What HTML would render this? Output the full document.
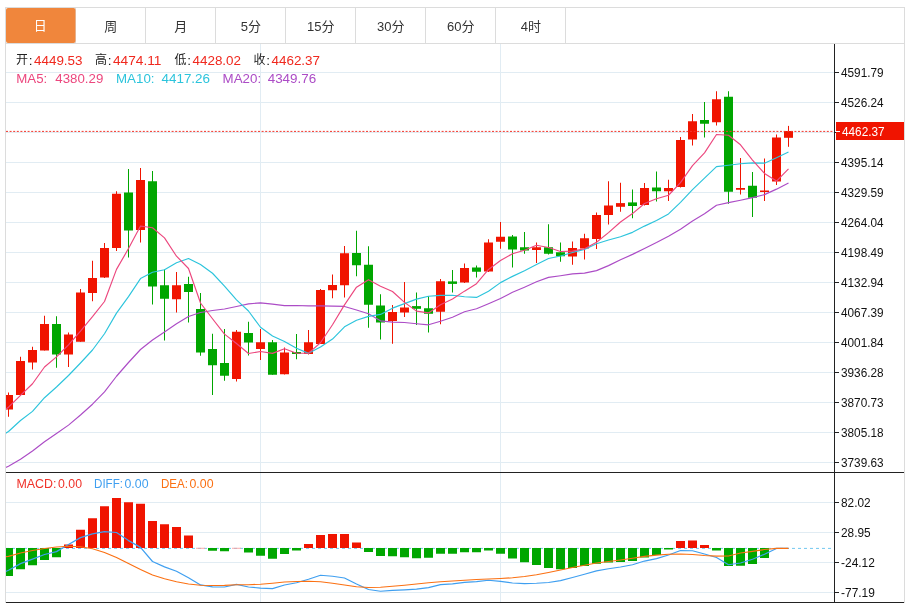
<!DOCTYPE html>
<html lang="zh-CN"><head><meta charset="utf-8"><title>K线图</title>
<style>
html,body{margin:0;padding:0;background:#fff;}
body{width:912px;height:603px;overflow:hidden;}
svg{display:block;}
text{font-family:"Liberation Sans","Noto Sans CJK SC",sans-serif;}
.ax{font-size:12.3px;fill:#111;}
.tab{font-size:13px;fill:#333;text-anchor:middle;}
.hd{font-size:13.6px;}
</style></head><body>
<svg width="912" height="603" viewBox="0 0 912 603">
<rect x="0" y="0" width="912" height="603" fill="#fff"/>
<defs><clipPath id="cm"><rect x="6" y="44" width="828" height="428"/></clipPath><clipPath id="cd"><rect x="6" y="473" width="828" height="129"/></clipPath></defs>
<g shape-rendering="crispEdges">
<rect x="5.5" y="7.5" width="899" height="595" fill="none" stroke="#dcdcdc"/>
<rect x="6" y="43" width="898" height="1" fill="#dcdcdc"/>
<rect x="75" y="8" width="1" height="35" fill="#dcdcdc"/>
<rect x="145" y="8" width="1" height="35" fill="#dcdcdc"/>
<rect x="215" y="8" width="1" height="35" fill="#dcdcdc"/>
<rect x="285" y="8" width="1" height="35" fill="#dcdcdc"/>
<rect x="355" y="8" width="1" height="35" fill="#dcdcdc"/>
<rect x="425" y="8" width="1" height="35" fill="#dcdcdc"/>
<rect x="495" y="8" width="1" height="35" fill="#dcdcdc"/>
<rect x="565" y="8" width="1" height="35" fill="#dcdcdc"/>
</g>
<rect x="6" y="8" width="69.5" height="35" rx="2" ry="2" fill="#f0863c"/>
<text class="tab" x="40.2" y="30.4" style="fill:#fff">日</text>
<text class="tab" x="110.8" y="30.8">周</text>
<text class="tab" x="180.8" y="30.8">月</text>
<text class="tab" x="250.8" y="30.8">5分</text>
<text class="tab" x="320.8" y="30.8">15分</text>
<text class="tab" x="390.8" y="30.8">30分</text>
<text class="tab" x="460.8" y="30.8">60分</text>
<text class="tab" x="530.8" y="30.8">4时</text>
<g shape-rendering="crispEdges">
<rect x="6" y="72" width="828" height="1" fill="#e1ecf3"/>
<rect x="6" y="102" width="828" height="1" fill="#e1ecf3"/>
<rect x="6" y="132" width="828" height="1" fill="#e1ecf3"/>
<rect x="6" y="162" width="828" height="1" fill="#e1ecf3"/>
<rect x="6" y="192" width="828" height="1" fill="#e1ecf3"/>
<rect x="6" y="222" width="828" height="1" fill="#e1ecf3"/>
<rect x="6" y="252" width="828" height="1" fill="#e1ecf3"/>
<rect x="6" y="282" width="828" height="1" fill="#e1ecf3"/>
<rect x="6" y="312" width="828" height="1" fill="#e1ecf3"/>
<rect x="6" y="342" width="828" height="1" fill="#e1ecf3"/>
<rect x="6" y="372" width="828" height="1" fill="#e1ecf3"/>
<rect x="6" y="402" width="828" height="1" fill="#e1ecf3"/>
<rect x="6" y="432" width="828" height="1" fill="#e1ecf3"/>
<rect x="6" y="462" width="828" height="1" fill="#e1ecf3"/>
<rect x="6" y="502" width="828" height="1" fill="#e1ecf3"/>
<rect x="6" y="532" width="828" height="1" fill="#e1ecf3"/>
<rect x="6" y="562" width="828" height="1" fill="#e1ecf3"/>
<rect x="6" y="592" width="828" height="1" fill="#e1ecf3"/>
<rect x="260" y="44" width="1" height="558" fill="#e1ecf3"/>
<rect x="500" y="44" width="1" height="558" fill="#e1ecf3"/>
</g>
<g clip-path="url(#cm)">
<rect x="8" y="392.50" width="1" height="24.25" fill="#f01400"/>
<rect x="4" y="395.00" width="9" height="14.50" fill="#f01400"/>
<rect x="20" y="356.75" width="1" height="38.25" fill="#f01400"/>
<rect x="16" y="361.00" width="9" height="34.00" fill="#f01400"/>
<rect x="32" y="346.75" width="1" height="22.75" fill="#f01400"/>
<rect x="28" y="350.00" width="9" height="12.50" fill="#f01400"/>
<rect x="44" y="315.75" width="1" height="34.75" fill="#f01400"/>
<rect x="40" y="324.00" width="9" height="26.50" fill="#f01400"/>
<rect x="56" y="316.25" width="1" height="51.50" fill="#00a600"/>
<rect x="52" y="324.00" width="9" height="30.50" fill="#00a600"/>
<rect x="68" y="332.50" width="1" height="34.50" fill="#f01400"/>
<rect x="64" y="334.50" width="9" height="20.00" fill="#f01400"/>
<rect x="80" y="289.00" width="1" height="52.75" fill="#f01400"/>
<rect x="76" y="292.50" width="9" height="49.25" fill="#f01400"/>
<rect x="92" y="260.75" width="1" height="40.50" fill="#f01400"/>
<rect x="88" y="278.00" width="9" height="15.00" fill="#f01400"/>
<rect x="104" y="243.00" width="1" height="35.00" fill="#f01400"/>
<rect x="100" y="248.00" width="9" height="29.50" fill="#f01400"/>
<rect x="116" y="191.25" width="1" height="59.75" fill="#f01400"/>
<rect x="112" y="193.75" width="9" height="54.25" fill="#f01400"/>
<rect x="128" y="169.00" width="1" height="88.50" fill="#00a600"/>
<rect x="124" y="192.50" width="9" height="38.00" fill="#00a600"/>
<rect x="140" y="168.00" width="1" height="74.50" fill="#f01400"/>
<rect x="136" y="180.00" width="9" height="50.00" fill="#f01400"/>
<rect x="152" y="171.00" width="1" height="133.50" fill="#00a600"/>
<rect x="148" y="181.25" width="9" height="105.25" fill="#00a600"/>
<rect x="164" y="269.50" width="1" height="71.00" fill="#00a600"/>
<rect x="160" y="285.25" width="9" height="13.50" fill="#00a600"/>
<rect x="176" y="272.00" width="1" height="40.50" fill="#f01400"/>
<rect x="172" y="285.25" width="9" height="14.00" fill="#f01400"/>
<rect x="188" y="276.75" width="1" height="45.75" fill="#00a600"/>
<rect x="184" y="284.00" width="9" height="8.00" fill="#00a600"/>
<rect x="200" y="293.00" width="1" height="62.75" fill="#00a600"/>
<rect x="196" y="309.00" width="9" height="43.50" fill="#00a600"/>
<rect x="212" y="333.75" width="1" height="61.25" fill="#00a600"/>
<rect x="208" y="349.00" width="9" height="16.25" fill="#00a600"/>
<rect x="224" y="329.00" width="1" height="51.75" fill="#00a600"/>
<rect x="220" y="363.00" width="9" height="12.75" fill="#00a600"/>
<rect x="236" y="330.00" width="1" height="51.50" fill="#f01400"/>
<rect x="232" y="331.75" width="9" height="47.25" fill="#f01400"/>
<rect x="248" y="321.75" width="1" height="33.75" fill="#00a600"/>
<rect x="244" y="333.00" width="9" height="9.50" fill="#00a600"/>
<rect x="260" y="329.00" width="1" height="31.00" fill="#f01400"/>
<rect x="256" y="342.25" width="9" height="6.75" fill="#f01400"/>
<rect x="272" y="340.00" width="1" height="34.75" fill="#00a600"/>
<rect x="268" y="342.25" width="9" height="32.50" fill="#00a600"/>
<rect x="284" y="347.50" width="1" height="27.00" fill="#f01400"/>
<rect x="280" y="352.50" width="9" height="21.75" fill="#f01400"/>
<rect x="296" y="334.00" width="1" height="25.25" fill="#00a600"/>
<rect x="292" y="352.00" width="9" height="2.00" fill="#00a600"/>
<rect x="308" y="330.00" width="1" height="24.50" fill="#f01400"/>
<rect x="304" y="342.25" width="9" height="11.75" fill="#f01400"/>
<rect x="320" y="289.00" width="1" height="55.00" fill="#f01400"/>
<rect x="316" y="290.00" width="9" height="54.00" fill="#f01400"/>
<rect x="332" y="274.50" width="1" height="23.75" fill="#f01400"/>
<rect x="328" y="285.00" width="9" height="5.25" fill="#f01400"/>
<rect x="344" y="246.00" width="1" height="51.50" fill="#f01400"/>
<rect x="340" y="253.25" width="9" height="32.00" fill="#f01400"/>
<rect x="356" y="230.75" width="1" height="45.50" fill="#00a600"/>
<rect x="352" y="253.00" width="9" height="12.25" fill="#00a600"/>
<rect x="368" y="246.25" width="1" height="81.50" fill="#00a600"/>
<rect x="364" y="264.75" width="9" height="40.00" fill="#00a600"/>
<rect x="380" y="294.25" width="1" height="45.25" fill="#00a600"/>
<rect x="376" y="305.50" width="9" height="17.00" fill="#00a600"/>
<rect x="392" y="305.00" width="1" height="38.75" fill="#f01400"/>
<rect x="388" y="312.00" width="9" height="9.00" fill="#f01400"/>
<rect x="404" y="282.00" width="1" height="35.00" fill="#f01400"/>
<rect x="400" y="307.50" width="9" height="5.00" fill="#f01400"/>
<rect x="416" y="292.50" width="1" height="32.50" fill="#00a600"/>
<rect x="412" y="306.10" width="9" height="2.70" fill="#00a600"/>
<rect x="428" y="296.25" width="1" height="36.25" fill="#00a600"/>
<rect x="424" y="308.25" width="9" height="5.50" fill="#00a600"/>
<rect x="440" y="279.00" width="1" height="45.25" fill="#f01400"/>
<rect x="436" y="281.25" width="9" height="30.50" fill="#f01400"/>
<rect x="452" y="270.00" width="1" height="22.50" fill="#00a600"/>
<rect x="448" y="281.40" width="9" height="2.50" fill="#00a600"/>
<rect x="464" y="263.50" width="1" height="19.50" fill="#f01400"/>
<rect x="460" y="268.00" width="9" height="14.50" fill="#f01400"/>
<rect x="476" y="265.50" width="1" height="12.00" fill="#00a600"/>
<rect x="472" y="267.50" width="9" height="4.25" fill="#00a600"/>
<rect x="488" y="239.25" width="1" height="32.75" fill="#f01400"/>
<rect x="484" y="242.50" width="9" height="29.00" fill="#f01400"/>
<rect x="500" y="222.00" width="1" height="26.75" fill="#f01400"/>
<rect x="496" y="236.75" width="9" height="5.00" fill="#f01400"/>
<rect x="512" y="235.00" width="1" height="32.50" fill="#00a600"/>
<rect x="508" y="236.50" width="9" height="13.00" fill="#00a600"/>
<rect x="524" y="232.00" width="1" height="21.75" fill="#00a600"/>
<rect x="520" y="247.25" width="9" height="3.25" fill="#00a600"/>
<rect x="536" y="242.50" width="1" height="20.50" fill="#f01400"/>
<rect x="532" y="247.25" width="9" height="2.75" fill="#f01400"/>
<rect x="548" y="224.25" width="1" height="30.25" fill="#00a600"/>
<rect x="544" y="247.25" width="9" height="6.50" fill="#00a600"/>
<rect x="560" y="242.50" width="1" height="19.25" fill="#00a600"/>
<rect x="556" y="252.25" width="9" height="4.00" fill="#00a600"/>
<rect x="572" y="241.50" width="1" height="23.25" fill="#f01400"/>
<rect x="568" y="248.00" width="9" height="8.50" fill="#f01400"/>
<rect x="584" y="233.75" width="1" height="25.75" fill="#f01400"/>
<rect x="580" y="238.25" width="9" height="10.25" fill="#f01400"/>
<rect x="596" y="212.50" width="1" height="36.50" fill="#f01400"/>
<rect x="592" y="215.00" width="9" height="24.00" fill="#f01400"/>
<rect x="608" y="181.25" width="1" height="43.25" fill="#f01400"/>
<rect x="604" y="205.50" width="9" height="9.50" fill="#f01400"/>
<rect x="620" y="182.75" width="1" height="29.00" fill="#f01400"/>
<rect x="616" y="203.10" width="9" height="3.70" fill="#f01400"/>
<rect x="632" y="189.50" width="1" height="28.75" fill="#00a600"/>
<rect x="628" y="202.40" width="9" height="3.60" fill="#00a600"/>
<rect x="644" y="183.00" width="1" height="22.50" fill="#f01400"/>
<rect x="640" y="188.00" width="9" height="17.00" fill="#f01400"/>
<rect x="656" y="171.50" width="1" height="30.00" fill="#00a600"/>
<rect x="652" y="187.50" width="9" height="3.75" fill="#00a600"/>
<rect x="668" y="179.75" width="1" height="21.25" fill="#f01400"/>
<rect x="664" y="188.00" width="9" height="3.25" fill="#f01400"/>
<rect x="680" y="137.00" width="1" height="50.50" fill="#f01400"/>
<rect x="676" y="140.00" width="9" height="47.00" fill="#f01400"/>
<rect x="692" y="114.00" width="1" height="31.50" fill="#f01400"/>
<rect x="688" y="121.25" width="9" height="18.25" fill="#f01400"/>
<rect x="704" y="102.00" width="1" height="35.50" fill="#00a600"/>
<rect x="700" y="120.00" width="9" height="3.75" fill="#00a600"/>
<rect x="716" y="91.25" width="1" height="34.25" fill="#f01400"/>
<rect x="712" y="99.25" width="9" height="23.00" fill="#f01400"/>
<rect x="728" y="91.25" width="1" height="112.50" fill="#00a600"/>
<rect x="724" y="96.75" width="9" height="95.00" fill="#00a600"/>
<rect x="740" y="158.00" width="1" height="36.50" fill="#f01400"/>
<rect x="736" y="188.00" width="9" height="1.75" fill="#f01400"/>
<rect x="752" y="172.00" width="1" height="45.00" fill="#00a600"/>
<rect x="748" y="185.75" width="9" height="12.00" fill="#00a600"/>
<rect x="764" y="158.50" width="1" height="42.50" fill="#f01400"/>
<rect x="760" y="190.50" width="9" height="1.50" fill="#f01400"/>
<rect x="776" y="134.50" width="1" height="50.50" fill="#f01400"/>
<rect x="772" y="137.50" width="9" height="44.00" fill="#f01400"/>
<rect x="788" y="125.90" width="1" height="20.90" fill="#f01400"/>
<rect x="784" y="131.00" width="9" height="6.80" fill="#f01400"/>
</g>
<g clip-path="url(#cm)">
<polyline points="-3.5,472.00 8.5,466.20 20.5,459.30 32.5,451.00 44.5,441.80 56.5,433.50 68.5,425.10 80.5,415.00 92.5,404.20 104.5,391.90 116.5,376.25 128.5,362.50 140.5,349.50 152.5,340.00 164.5,332.00 176.5,323.75 188.5,316.50 200.5,312.50 212.5,310.50 224.5,309.00 236.5,306.48 248.5,303.85 260.5,302.91 272.5,304.15 284.5,305.57 296.5,305.55 308.5,305.94 320.5,305.81 332.5,306.16 344.5,306.43 356.5,310.00 368.5,313.71 380.5,320.84 392.5,322.11 404.5,322.55 416.5,323.73 428.5,324.81 440.5,321.25 452.5,317.19 464.5,311.80 476.5,308.80 488.5,303.80 500.5,298.52 512.5,292.26 524.5,287.16 536.5,281.82 548.5,277.40 560.5,275.71 572.5,273.86 584.5,273.11 596.5,270.60 608.5,265.63 620.5,259.67 632.5,254.37 644.5,248.39 656.5,242.51 668.5,236.22 680.5,229.16 692.5,221.03 704.5,213.82 716.5,205.19 728.5,202.66 740.5,200.22 752.5,197.63 764.5,194.63 776.5,189.14 788.5,183.00" fill="none" stroke="#ac4cc6" stroke-width="1.15" stroke-linejoin="round"/>
<polyline points="-3.5,438.70 8.5,431.50 20.5,420.50 32.5,411.40 44.5,397.70 56.5,387.00 68.5,375.50 80.5,363.00 92.5,350.00 104.5,333.75 116.5,313.12 128.5,296.68 140.5,278.57 152.5,272.23 164.5,269.70 176.5,262.77 188.5,258.52 200.5,264.52 212.5,273.25 224.5,286.02 236.5,299.82 248.5,311.02 260.5,327.25 272.5,336.07 284.5,341.45 296.5,348.32 308.5,353.35 320.5,347.10 332.5,339.07 344.5,326.82 356.5,320.18 368.5,316.40 380.5,314.43 392.5,308.15 404.5,303.65 416.5,299.13 428.5,296.28 440.5,295.41 452.5,295.29 464.5,296.77 476.5,297.42 488.5,291.19 500.5,282.62 512.5,276.37 524.5,270.67 536.5,264.51 548.5,258.51 560.5,256.01 572.5,252.43 584.5,249.45 596.5,243.78 608.5,240.07 620.5,236.71 632.5,232.36 644.5,226.11 656.5,220.51 668.5,213.94 680.5,202.31 692.5,189.63 704.5,178.19 716.5,166.61 728.5,165.23 740.5,163.72 752.5,162.90 764.5,163.15 776.5,157.78 788.5,152.07" fill="none" stroke="#2cc4dc" stroke-width="1.15" stroke-linejoin="round"/>
<polyline points="-3.5,415.90 8.5,407.20 20.5,395.40 32.5,383.75 44.5,367.00 56.5,356.90 68.5,344.80 80.5,331.10 92.5,316.70 104.5,301.50 116.5,269.35 128.5,248.55 140.5,226.05 152.5,227.75 164.5,237.90 176.5,256.20 188.5,268.50 200.5,303.00 212.5,318.75 224.5,334.15 236.5,343.45 248.5,353.55 260.5,351.50 272.5,353.40 284.5,348.75 296.5,353.20 308.5,353.15 320.5,342.70 332.5,324.75 344.5,304.90 356.5,287.15 368.5,279.65 380.5,286.15 392.5,291.55 404.5,302.40 416.5,311.11 428.5,312.91 440.5,304.66 452.5,299.04 464.5,291.14 476.5,283.73 488.5,269.48 500.5,260.58 512.5,253.70 524.5,250.20 536.5,245.30 548.5,247.55 560.5,251.45 572.5,251.15 584.5,248.70 596.5,242.25 608.5,232.60 620.5,221.97 632.5,213.57 644.5,203.52 656.5,198.77 668.5,195.27 680.5,182.65 692.5,165.70 704.5,152.85 716.5,134.45 728.5,135.20 740.5,144.80 752.5,160.10 764.5,173.45 776.5,181.10 788.5,168.95" fill="none" stroke="#ec477e" stroke-width="1.15" stroke-linejoin="round"/>
</g>
<line x1="6" y1="131.4" x2="832.5" y2="131.4" stroke="#f2352a" stroke-width="1" stroke-dasharray="2,1.6"/>
<g clip-path="url(#cd)">
<line x1="6" y1="548.4" x2="832" y2="548.4" stroke="#72c8f0" stroke-width="1" stroke-dasharray="3,3"/>
<g>
<rect x="4" y="548.00" width="9" height="28.00" fill="#00a600"/>
<rect x="16" y="548.00" width="9" height="21.25" fill="#00a600"/>
<rect x="28" y="548.00" width="9" height="17.25" fill="#00a600"/>
<rect x="40" y="548.00" width="9" height="12.00" fill="#00a600"/>
<rect x="52" y="548.00" width="9" height="9.25" fill="#00a600"/>
<rect x="64" y="544.50" width="9" height="3.50" fill="#f01400"/>
<rect x="76" y="529.75" width="9" height="18.25" fill="#f01400"/>
<rect x="88" y="518.25" width="9" height="29.75" fill="#f01400"/>
<rect x="100" y="506.25" width="9" height="41.75" fill="#f01400"/>
<rect x="112" y="498.00" width="9" height="50.00" fill="#f01400"/>
<rect x="124" y="502.25" width="9" height="45.75" fill="#f01400"/>
<rect x="136" y="503.75" width="9" height="44.25" fill="#f01400"/>
<rect x="148" y="521.00" width="9" height="27.00" fill="#f01400"/>
<rect x="160" y="524.25" width="9" height="23.75" fill="#f01400"/>
<rect x="172" y="527.00" width="9" height="21.00" fill="#f01400"/>
<rect x="184" y="535.50" width="9" height="12.50" fill="#f01400"/>
<rect x="196" y="547.8" width="9" height="0.9" fill="#f9a0a0"/>
<rect x="208" y="548.00" width="9" height="2.75" fill="#00a600"/>
<rect x="220" y="548.00" width="9" height="3.25" fill="#00a600"/>
<rect x="232" y="547.8" width="9" height="0.9" fill="#f9a0a0"/>
<rect x="244" y="548.00" width="9" height="4.50" fill="#00a600"/>
<rect x="256" y="548.00" width="9" height="7.75" fill="#00a600"/>
<rect x="268" y="548.00" width="9" height="10.75" fill="#00a600"/>
<rect x="280" y="548.00" width="9" height="6.00" fill="#00a600"/>
<rect x="292" y="548.00" width="9" height="2.50" fill="#00a600"/>
<rect x="304" y="544.00" width="9" height="4.00" fill="#f01400"/>
<rect x="316" y="535.00" width="9" height="13.00" fill="#f01400"/>
<rect x="328" y="534.00" width="9" height="14.00" fill="#f01400"/>
<rect x="340" y="534.00" width="9" height="14.00" fill="#f01400"/>
<rect x="352" y="542.50" width="9" height="5.50" fill="#f01400"/>
<rect x="364" y="548.00" width="9" height="4.00" fill="#00a600"/>
<rect x="376" y="548.00" width="9" height="8.00" fill="#00a600"/>
<rect x="388" y="548.00" width="9" height="8.25" fill="#00a600"/>
<rect x="400" y="548.00" width="9" height="9.25" fill="#00a600"/>
<rect x="412" y="548.00" width="9" height="10.25" fill="#00a600"/>
<rect x="424" y="548.00" width="9" height="9.75" fill="#00a600"/>
<rect x="436" y="548.00" width="9" height="5.75" fill="#00a600"/>
<rect x="448" y="548.00" width="9" height="5.75" fill="#00a600"/>
<rect x="460" y="548.00" width="9" height="4.25" fill="#00a600"/>
<rect x="472" y="548.00" width="9" height="4.25" fill="#00a600"/>
<rect x="484" y="548.00" width="9" height="2.50" fill="#00a600"/>
<rect x="496" y="548.00" width="9" height="5.75" fill="#00a600"/>
<rect x="508" y="548.00" width="9" height="10.50" fill="#00a600"/>
<rect x="520" y="548.00" width="9" height="14.25" fill="#00a600"/>
<rect x="532" y="548.00" width="9" height="17.00" fill="#00a600"/>
<rect x="544" y="548.00" width="9" height="20.00" fill="#00a600"/>
<rect x="556" y="548.00" width="9" height="21.25" fill="#00a600"/>
<rect x="568" y="548.00" width="9" height="20.00" fill="#00a600"/>
<rect x="580" y="548.00" width="9" height="18.00" fill="#00a600"/>
<rect x="592" y="548.00" width="9" height="15.75" fill="#00a600"/>
<rect x="604" y="548.00" width="9" height="14.50" fill="#00a600"/>
<rect x="616" y="548.00" width="9" height="14.00" fill="#00a600"/>
<rect x="628" y="548.00" width="9" height="13.00" fill="#00a600"/>
<rect x="640" y="548.00" width="9" height="9.50" fill="#00a600"/>
<rect x="652" y="548.00" width="9" height="7.00" fill="#00a600"/>
<rect x="664" y="548.00" width="9" height="1.50" fill="#00a600"/>
<rect x="676" y="541.00" width="9" height="7.00" fill="#f01400"/>
<rect x="688" y="540.50" width="9" height="7.50" fill="#f01400"/>
<rect x="700" y="545.00" width="9" height="3.00" fill="#f01400"/>
<rect x="712" y="548.00" width="9" height="2.50" fill="#00a600"/>
<rect x="724" y="548.00" width="9" height="18.00" fill="#00a600"/>
<rect x="736" y="548.00" width="9" height="17.75" fill="#00a600"/>
<rect x="748" y="548.00" width="9" height="16.00" fill="#00a600"/>
<rect x="760" y="548.00" width="9" height="10.00" fill="#00a600"/>
</g>
<polyline points="-3.5,575.50 8.5,570.30 20.5,563.62 32.5,559.12 44.5,554.50 56.5,551.62 68.5,544.50 80.5,537.62 92.5,533.88 104.5,531.62 116.5,532.50 128.5,540.62 140.5,547.38 152.5,561.50 164.5,566.88 176.5,571.25 188.5,577.75 200.5,584.90 212.5,586.88 224.5,587.02 236.5,584.40 248.5,587.00 260.5,588.12 272.5,588.62 284.5,585.00 296.5,582.75 308.5,579.25 320.5,575.25 332.5,576.25 344.5,578.00 356.5,584.00 368.5,589.50 380.5,591.25 392.5,590.38 404.5,589.88 416.5,589.12 428.5,587.62 440.5,584.62 452.5,583.88 464.5,582.38 476.5,581.62 488.5,580.25 500.5,581.38 512.5,583.00 524.5,583.62 536.5,583.25 548.5,582.50 560.5,580.62 572.5,577.50 584.5,574.25 596.5,570.88 608.5,568.75 620.5,567.00 632.5,564.75 644.5,561.05 656.5,558.60 668.5,555.00 680.5,550.50 692.5,550.75 704.5,554.00 716.5,557.50 728.5,564.75 740.5,563.00 752.5,559.25 764.5,554.25 776.5,548.45 788.5,548.45" fill="none" stroke="#3f9ff0" stroke-width="1.2" stroke-linejoin="round"/>
<polyline points="-3.5,557.80 8.5,556.30 20.5,553.00 32.5,550.50 44.5,548.50 56.5,547.00 68.5,546.25 80.5,546.75 92.5,548.75 104.5,552.50 116.5,557.50 128.5,563.50 140.5,569.50 152.5,575.00 164.5,578.75 176.5,581.75 188.5,584.00 200.5,585.25 212.5,585.50 224.5,585.40 236.5,584.75 248.5,584.75 260.5,584.25 272.5,583.25 284.5,582.00 296.5,581.50 308.5,581.25 320.5,581.75 332.5,583.25 344.5,585.00 356.5,586.75 368.5,587.50 380.5,587.25 392.5,586.25 404.5,585.25 416.5,584.00 428.5,582.75 440.5,581.75 452.5,581.00 464.5,580.25 476.5,579.50 488.5,579.00 500.5,578.50 512.5,577.75 524.5,576.50 536.5,574.75 548.5,572.50 560.5,570.00 572.5,567.50 584.5,565.25 596.5,563.00 608.5,561.50 620.5,560.00 632.5,558.25 644.5,556.30 656.5,555.10 668.5,554.25 680.5,554.00 692.5,554.50 704.5,555.50 716.5,556.20 728.5,556.00 740.5,553.00 752.5,551.30 764.5,549.50 776.5,548.45 788.5,548.45" fill="none" stroke="#fb7012" stroke-width="1.2" stroke-linejoin="round"/>
</g>
<g shape-rendering="crispEdges" fill="#222">
<rect x="834" y="44" width="1" height="558"/>
<rect x="6" y="472" width="898" height="1"/>
<rect x="6" y="602" width="898" height="1"/>
<rect x="835" y="72" width="4" height="1"/>
<rect x="835" y="102" width="4" height="1"/>
<rect x="835" y="132" width="4" height="1"/>
<rect x="835" y="162" width="4" height="1"/>
<rect x="835" y="192" width="4" height="1"/>
<rect x="835" y="222" width="4" height="1"/>
<rect x="835" y="252" width="4" height="1"/>
<rect x="835" y="282" width="4" height="1"/>
<rect x="835" y="312" width="4" height="1"/>
<rect x="835" y="342" width="4" height="1"/>
<rect x="835" y="372" width="4" height="1"/>
<rect x="835" y="402" width="4" height="1"/>
<rect x="835" y="432" width="4" height="1"/>
<rect x="835" y="462" width="4" height="1"/>
<rect x="835" y="502" width="4" height="1"/>
<rect x="835" y="532" width="4" height="1"/>
<rect x="835" y="562" width="4" height="1"/>
<rect x="835" y="592" width="4" height="1"/>
</g>
<text class="ax" x="841" y="76.9" textLength="42.6" lengthAdjust="spacingAndGlyphs">4591.79</text>
<text class="ax" x="841" y="106.9" textLength="42.6" lengthAdjust="spacingAndGlyphs">4526.24</text>
<text class="ax" x="841" y="166.9" textLength="42.6" lengthAdjust="spacingAndGlyphs">4395.14</text>
<text class="ax" x="841" y="196.9" textLength="42.6" lengthAdjust="spacingAndGlyphs">4329.59</text>
<text class="ax" x="841" y="226.9" textLength="42.6" lengthAdjust="spacingAndGlyphs">4264.04</text>
<text class="ax" x="841" y="256.9" textLength="42.6" lengthAdjust="spacingAndGlyphs">4198.49</text>
<text class="ax" x="841" y="286.9" textLength="42.6" lengthAdjust="spacingAndGlyphs">4132.94</text>
<text class="ax" x="841" y="316.9" textLength="42.6" lengthAdjust="spacingAndGlyphs">4067.39</text>
<text class="ax" x="841" y="346.9" textLength="42.6" lengthAdjust="spacingAndGlyphs">4001.84</text>
<text class="ax" x="841" y="376.9" textLength="42.6" lengthAdjust="spacingAndGlyphs">3936.28</text>
<text class="ax" x="841" y="406.9" textLength="42.6" lengthAdjust="spacingAndGlyphs">3870.73</text>
<text class="ax" x="841" y="436.9" textLength="42.6" lengthAdjust="spacingAndGlyphs">3805.18</text>
<text class="ax" x="841" y="466.9" textLength="42.6" lengthAdjust="spacingAndGlyphs">3739.63</text>
<text class="ax" x="841" y="506.9" textLength="29.6" lengthAdjust="spacingAndGlyphs">82.02</text>
<text class="ax" x="841" y="536.9" textLength="29.6" lengthAdjust="spacingAndGlyphs">28.95</text>
<text class="ax" x="841" y="566.9" textLength="33.9" lengthAdjust="spacingAndGlyphs">-24.12</text>
<text class="ax" x="841" y="596.9" textLength="33.9" lengthAdjust="spacingAndGlyphs">-77.19</text>
<rect x="836" y="122" width="68" height="18" fill="#f01400" shape-rendering="crispEdges"/>
<rect x="836" y="131" width="4" height="1" fill="#fff" shape-rendering="crispEdges"/>
<text class="ax" x="842" y="136.3" style="fill:#fff" textLength="42.6" lengthAdjust="spacingAndGlyphs">4462.37</text>
<text x="16" y="64.4" fill="#222" style="font-size:12px">开</text>
<text class="hd" x="28.7" y="65" fill="#222">:</text>
<text class="hd" x="34" y="65" fill="#f0281e" textLength="48.5" lengthAdjust="spacingAndGlyphs">4449.53</text>
<text x="95" y="64.4" fill="#222" style="font-size:12px">高</text>
<text class="hd" x="107.7" y="65" fill="#222">:</text>
<text class="hd" x="113" y="65" fill="#f0281e" textLength="48.5" lengthAdjust="spacingAndGlyphs">4474.11</text>
<text x="174.5" y="64.4" fill="#222" style="font-size:12px">低</text>
<text class="hd" x="187.2" y="65" fill="#222">:</text>
<text class="hd" x="192.5" y="65" fill="#f0281e" textLength="48.5" lengthAdjust="spacingAndGlyphs">4428.02</text>
<text x="253.5" y="64.4" fill="#222" style="font-size:12px">收</text>
<text class="hd" x="266.2" y="65" fill="#222">:</text>
<text class="hd" x="271.5" y="65" fill="#f0281e" textLength="48.5" lengthAdjust="spacingAndGlyphs">4462.37</text>
<text class="hd" x="16.3" y="83" fill="#ec477e" textLength="31" lengthAdjust="spacingAndGlyphs">MA5:</text>
<text class="hd" x="55.3" y="83" fill="#ec477e" textLength="48" lengthAdjust="spacingAndGlyphs">4380.29</text>
<text class="hd" x="116" y="83" fill="#2cc4dc" textLength="38.5" lengthAdjust="spacingAndGlyphs">MA10:</text>
<text class="hd" x="161.5" y="83" fill="#2cc4dc" textLength="48.5" lengthAdjust="spacingAndGlyphs">4417.26</text>
<text class="hd" x="222.6" y="83" fill="#ac4cc6" textLength="38.5" lengthAdjust="spacingAndGlyphs">MA20:</text>
<text class="hd" x="267.7" y="83" fill="#ac4cc6" textLength="48.5" lengthAdjust="spacingAndGlyphs">4349.76</text>
<text class="hd" x="16.5" y="488" fill="#f0322a" textLength="40" lengthAdjust="spacingAndGlyphs">MACD:</text>
<text class="hd" x="58" y="488" fill="#f0322a" textLength="24" lengthAdjust="spacingAndGlyphs">0.00</text>
<text class="hd" x="94" y="488" fill="#3f9ff0" textLength="29" lengthAdjust="spacingAndGlyphs">DIFF:</text>
<text class="hd" x="124.5" y="488" fill="#3f9ff0" textLength="24" lengthAdjust="spacingAndGlyphs">0.00</text>
<text class="hd" x="161" y="488" fill="#fb7012" textLength="27" lengthAdjust="spacingAndGlyphs">DEA:</text>
<text class="hd" x="189.5" y="488" fill="#fb7012" textLength="24" lengthAdjust="spacingAndGlyphs">0.00</text>
</svg></body></html>
